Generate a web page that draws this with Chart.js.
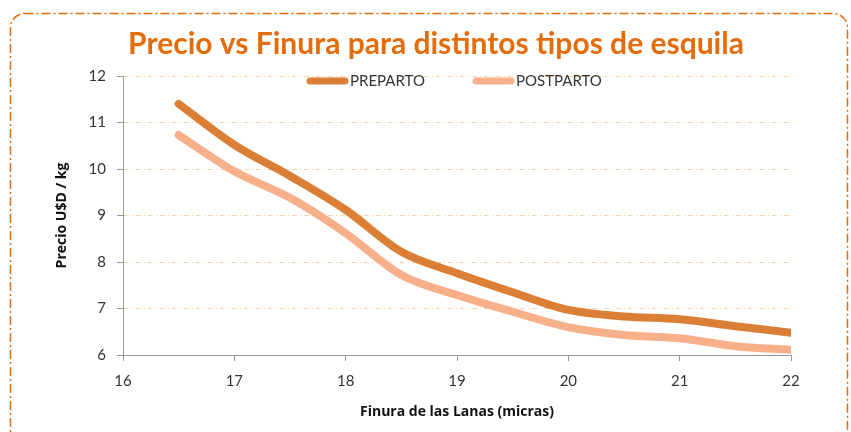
<!DOCTYPE html>
<html>
<head>
<meta charset="utf-8">
<script src="https://cdn.jsdelivr.net/npm/chart.js@4.4.1/dist/chart.umd.min.js"></script>
<style>
  html, body { margin: 0; padding: 0; background: #fff; }
  #wrap { width: 851px; height: 432px; }
</style>
</head>
<body>
<div id="wrap"><canvas id="precioChart" width="851" height="432"></canvas></div>
<script>
// Finura (micras) y precio en U$D/kg
const finura = [16.5, 17, 17.5, 18, 18.5, 19, 19.5, 20, 20.5, 21, 21.5, 22];
const preparto = [11.40, 10.52, 9.85, 9.12, 8.22, 7.76, 7.35, 6.97, 6.83, 6.77, 6.62, 6.48];
const postparto = [10.73, 9.95, 9.38, 8.62, 7.72, 7.29, 6.93, 6.60, 6.43, 6.36, 6.19, 6.11];
const seriesNames = ['PREPARTO', 'POSTPARTO'];
const chartTitle = 'Precio vs Finura para distintos tipos de esquila';

const colorPre = '#dc7f36';
const colorPost = '#f8b08b';
const orange = '#e46c0a';
const fontFamily = 'Lato, "Open Sans", sans-serif';
const axisFont = '"Open Sans", Lato, sans-serif';

const toPoints = vals => vals.map((v, i) => ({ x: finura[i], y: v }));

// marco punteado, titulo y leyenda dentro del area
const decor = {
    id: 'decor',
    beforeDraw(chart) {
        const c = chart.ctx;
        c.save();
        c.strokeStyle = orange;
        c.lineWidth = 1.5;
        c.setLineDash([9, 3, 2, 3]);
        c.beginPath();
        c.roundRect(10.5, 13.5, 837, 440, 14);
        c.stroke();
        c.restore();

        c.save();
        c.fillStyle = orange;
        c.font = 'bold 30px ' + fontFamily;
        c.textAlign = 'center';
        c.textBaseline = 'middle';
        c.fillText(chartTitle, 436, 44);
        c.restore();
    },
    afterDraw(chart) {
        const c = chart.ctx;
        const items = [
            { name: seriesNames[0], color: colorPre, x: 307 },
            { name: seriesNames[1], color: colorPost, x: 473 }
        ];
        c.save();
        c.lineCap = 'round';
        c.lineWidth = 7;
        c.font = '15px ' + fontFamily;
        c.textBaseline = 'middle';
        items.forEach(it => {
            c.strokeStyle = it.color;
            c.beginPath();
            c.moveTo(it.x + 3, 81);
            c.lineTo(it.x + 38, 81);
            c.stroke();
            c.fillStyle = '#333';
            c.fillText(it.name, it.x + 43, 81);
        });
        c.restore();
    }
};

new Chart(document.getElementById('precioChart'), {
    type: 'line',
    data: {
        datasets: [{
            label: seriesNames[0],
            data: toPoints(preparto),
            borderColor: colorPre,
            borderWidth: 8,
            borderCapStyle: 'round',
            cubicInterpolationMode: 'monotone',
            pointRadius: 0,
            fill: false
        }, {
            label: seriesNames[1],
            data: toPoints(postparto),
            borderColor: colorPost,
            borderWidth: 8,
            borderCapStyle: 'round',
            cubicInterpolationMode: 'monotone',
            pointRadius: 0,
            fill: false
        }]
    },
    options: {
        responsive: false,
        animation: false,
        layout: { padding: { left: 0, right: 60, top: 76, bottom: 0 } },
        plugins: {
            legend: { display: false },
            tooltip: { enabled: false },
            title: { display: false }
        },
        scales: {
            x: {
                type: 'linear',
                min: 16,
                max: 22,
                afterFit(scale) { scale.height = 77; },
                ticks: {
                    stepSize: 1,
                    color: '#333',
                    padding: 11,
                    font: { family: fontFamily, size: 15 }
                },
                grid: {
                    drawOnChartArea: false,
                    tickLength: 6,
                    tickColor: '#999'
                },
                border: { color: '#999', width: 1 },
                title: {
                    display: true,
                    text: 'Finura de las Lanas (micras)',
                    color: '#111',
                    font: { family: axisFont, size: 14, weight: 'bold' },
                    padding: { top: 0, bottom: 12 }
                }
            },
            y: {
                min: 6,
                max: 12,
                afterFit(scale) { scale.width = 123; },
                ticks: {
                    stepSize: 1,
                    color: '#333',
                    padding: 11,
                    font: { family: fontFamily, size: 15 }
                },
                grid: {
                    color: '#fbd3b2',
                    lineWidth: 1,
                    tickLength: 6,
                    tickColor: '#999',
                    tickBorderDash: []
                },
                border: { color: '#999', width: 1, dash: [5, 3, 1, 3] },
                title: {
                    display: true,
                    text: 'Precio U$D / kg',
                    color: '#111',
                    font: { family: axisFont, size: 14, weight: 'bold' },
                    padding: { top: 54, bottom: 0 }
                }
            }
        }
    },
    plugins: [decor]
});
</script>
</body>
</html>
